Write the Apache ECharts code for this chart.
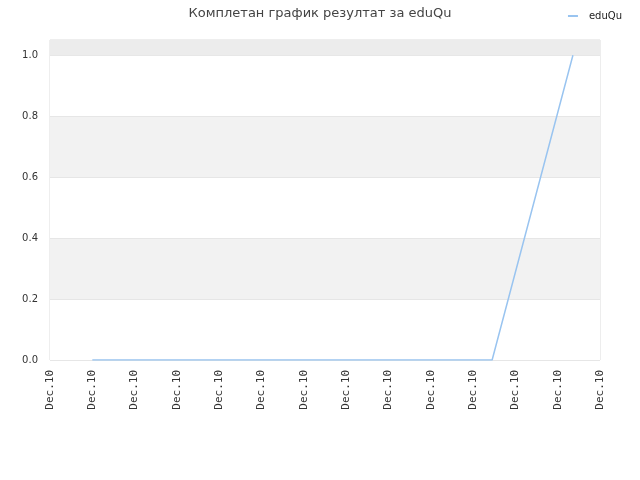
<!DOCTYPE html>
<html><head><meta charset="utf-8">
<script src="https://cdn.jsdelivr.net/npm/echarts@6/dist/echarts.min.js"></script>
<style>html,body{margin:0;padding:0;background:#fff}#c{width:640px;height:480px}</style>
</head><body><div id="c"></div>
<script>
const titleText = "Комплетан график резултат за eduQu";
const seriesName = "eduQu";
const xTickLabel = "Dec.10";
const xPositions = [1, 10.45, 12.36];
const yValues = [0, 0, 1];

const chart = echarts.init(document.getElementById('c'), null, {renderer: 'canvas'});
chart.setOption({
  animation: false,
  title: {text: titleText, left: 'center', top: 2,
    textStyle: {fontFamily: 'DejaVu Sans', fontSize: 13, fontWeight: 'normal', color: '#444'}},
  legend: {right: 13, top: 6, itemWidth: 10, itemHeight: 2,
    icon: 'rect', itemGap: 10,
    textStyle: {fontFamily: 'DejaVu Sans', fontSize: 10, color: '#222', padding: [0, 0, 0, 6]},
    data: [{name: seriesName, itemStyle: {color: '#99c4f0'}}]},
  grid: {left: 50, right: 40, top: 40, bottom: 120, show: true, borderColor: '#dcdcdc', borderWidth: 1, backgroundColor: 'transparent'},
  xAxis: {type: 'value', min: 0, max: 13, interval: 1,
    axisLine: {show: false}, axisTick: {show: false}, splitLine: {show: false},
    axisLabel: {rotate: 90, margin: 10, formatter: () => xTickLabel,
      fontFamily: 'DejaVu Sans Mono', fontSize: 11, color: '#333'}},
  yAxis: {type: 'value', min: 0, max: 1.05, interval: 0.2,
    axisLine: {show: false}, axisTick: {show: false},
    splitLine: {show: true, lineStyle: {color: '#e6e6e6'}},
    splitArea: {show: true, areaStyle: {color: ['#ffffff', '#f2f2f2']}},
    axisLabel: {showMaxLabel: false, margin: 12, formatter: v => v.toFixed(1),
      fontFamily: 'DejaVu Sans', fontSize: 10, color: '#333'}},
  series: [{name: seriesName, type: 'line', symbol: 'none',
    lineStyle: {color: '#99c4f0', width: 1.5}, itemStyle: {color: '#99c4f0'},
    markArea: {silent: true, itemStyle: {color: '#ececec'}, data: [[{yAxis: 1.0}, {yAxis: 1.05}]]},
    data: xPositions.map((x, i) => [x, yValues[i]])}]
});
</script></body></html>
